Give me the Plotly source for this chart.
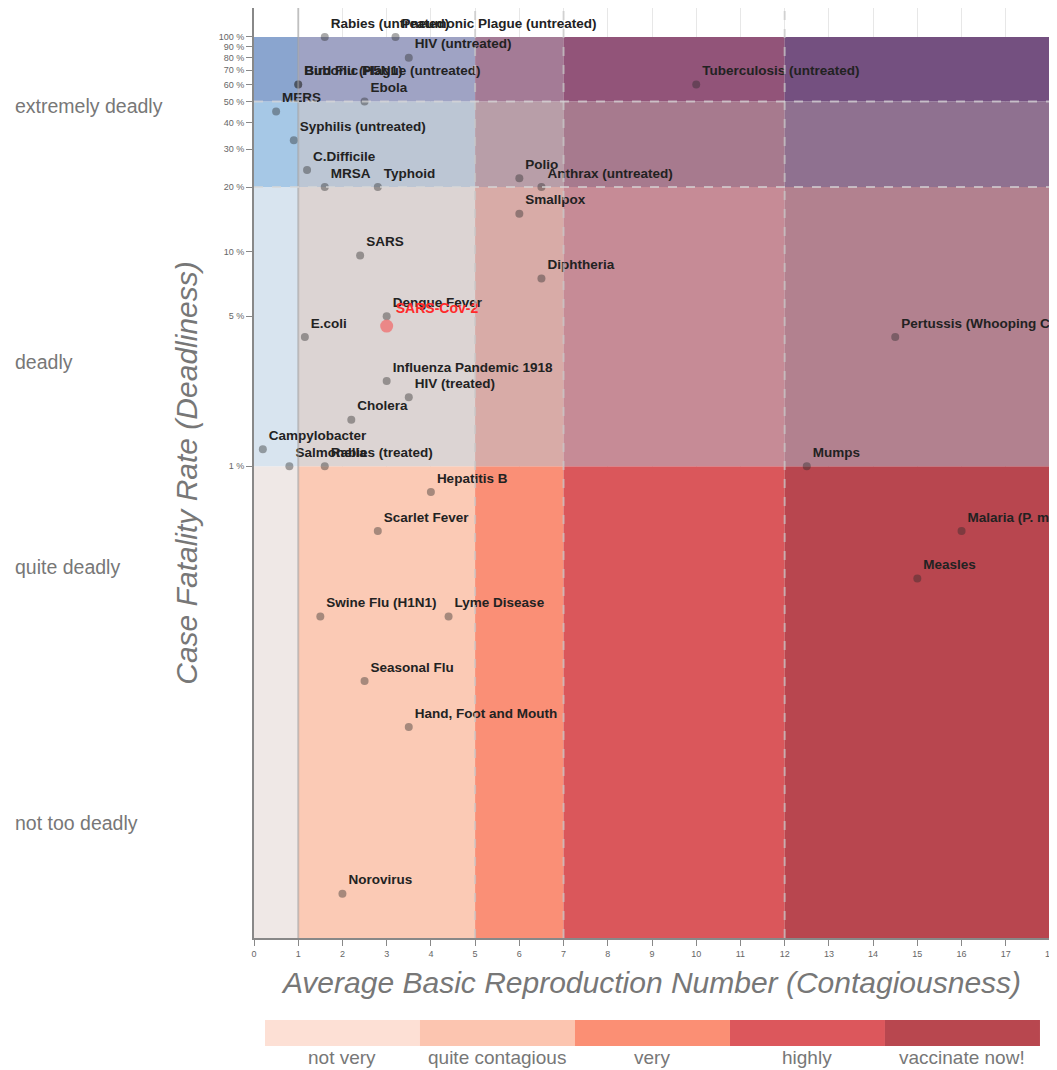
import plotly.graph_objects as go

# ---------------- data ----------------
diseases = [
    "Rabies (untreated)", "Pneumonic Plague (untreated)", "HIV (untreated)",
    "Bubonic Plague (untreated)", "Bird Flu (H5N1)", "Tuberculosis (untreated)",
    "Ebola", "MERS", "Syphilis (untreated)", "C.Difficile", "MRSA", "Typhoid",
    "Polio", "Anthrax (untreated)", "Smallpox", "SARS", "Diphtheria",
    "Dengue Fever", "E.coli", "Pertussis (Whooping Cough)",
    "Influenza Pandemic 1918", "HIV (treated)", "Cholera", "Campylobacter",
    "Salmonella", "Rabies (treated)", "Mumps", "Hepatitis B", "Scarlet Fever",
    "Malaria (P. malariae)", "Measles", "Swine Flu (H1N1)", "Lyme Disease",
    "Seasonal Flu", "Hand, Foot and Mouth", "Norovirus",
]
r0 = [
    1.6, 3.2, 3.5,
    1.0, 1.0, 10.0,
    2.5, 0.5, 0.9, 1.2, 1.6, 2.8,
    6.0, 6.5, 6.0, 2.4, 6.5,
    3.0, 1.15, 14.5,
    3.0, 3.5, 2.2, 0.2,
    0.8, 1.6, 12.5, 4.0, 2.8,
    16.0, 15.0, 1.5, 4.4,
    2.5, 3.5, 2.0,
]
cfr = [
    100, 100, 80,
    60, 60, 60,
    50, 45, 33, 24, 20, 20,
    22, 20, 15, 9.6, 7.5,
    5.0, 4.0, 4.0,
    2.5, 2.1, 1.65, 1.2,
    1.0, 1.0, 1.0, 0.76, 0.5,
    0.5, 0.3, 0.2, 0.2,
    0.1, 0.061, 0.0102,
]

covid_name = ["SARS-Cov-2"]
covid_r0 = [3.0]
covid_cfr = [4.5]

# band thresholds
r0_bands = [0, 1, 5, 7, 12, 18]
cfr_bands = [0.001, 1, 20, 50, 100]
deadly_labels = ["extremely deadly", "deadly", "quite deadly", "not too deadly"]
contagious_labels = ["not very", "quite contagious", "very", "highly", "vaccinate now!"]

y_ticks = [1, 5, 10, 20, 30, 40, 50, 60, 70, 80, 90, 100]
y_ticktext = [f"{v} %" for v in y_ticks]
x_ticks = list(range(0, 19))

# ---------------- styles ----------------
# rows: bottom -> top (cfr bands), cols: left -> right (r0 bands)
band_colors = [
    ["#efe8e6", "#fbcab5", "#fa8f76", "#da575b", "#b8464f"],
    ["#d8e4ef", "#dcd4d3", "#d8aba7", "#c68b96", "#b2818f"],
    ["#a6c8e6", "#bcc6d4", "#b89ea8", "#a77a8e", "#8f7190"],
    ["#8aa5cf", "#9fa3c4", "#a47b96", "#925479", "#745080"],
]
legend_colors = ["#fde0d5", "#fcc5b0", "#fb8f74", "#dc575c", "#b8474f"]

FONT = "Liberation Sans, Arial, sans-serif"

fig = go.Figure()

shapes = []
for i in range(len(cfr_bands) - 1):
    for j in range(len(r0_bands) - 1):
        shapes.append(dict(
            type="rect", xref="x", yref="y", layer="between",
            x0=r0_bands[j], x1=r0_bands[j + 1],
            y0=cfr_bands[i], y1=cfr_bands[i + 1],
            fillcolor=band_colors[i][j], line=dict(width=0),
        ))
# dashed vertical separators
for xv in r0_bands[2:-1]:
    shapes.append(dict(type="line", xref="x", yref="paper", x0=xv, x1=xv, y0=0, y1=1,
                       line=dict(color="rgba(200,200,200,0.7)", width=2, dash="dash"), layer="above"))
# solid line at R0 = 1
shapes.append(dict(type="line", xref="x", yref="paper", x0=r0_bands[1], x1=r0_bands[1], y0=0, y1=1,
                   line=dict(color="rgba(160,160,160,0.55)", width=2), layer="above"))
# dashed horizontal separators
for yv in cfr_bands[2:-1]:
    shapes.append(dict(type="line", xref="x", yref="y", x0=r0_bands[0], x1=r0_bands[-1], y0=yv, y1=yv,
                       line=dict(color="rgba(215,215,215,0.7)", width=2, dash="dash"), layer="above"))

# legend strip (paper coords)
lx0, lx1 = 0.0138, 0.9874
ly0, ly1 = -0.1161, -0.0882
seg = (lx1 - lx0) / len(contagious_labels)
annotations = []
for k, (lab, col) in enumerate(zip(contagious_labels, legend_colors)):
    shapes.append(dict(type="rect", xref="paper", yref="paper",
                       x0=lx0 + k * seg, x1=lx0 + (k + 1) * seg, y0=ly0, y1=ly1,
                       fillcolor=col, line=dict(width=0), layer="above"))
    annotations.append(dict(xref="paper", yref="paper", x=lx0 + (k + 0.5) * seg, y=-0.128,
                            text=lab, showarrow=False, xanchor="center", yanchor="middle",
                            font=dict(family=FONT, size=19, color="#777")))

deadly_y = [0.8946, 0.6194, 0.3989, 0.1237]
for lab, yy in zip(deadly_labels, deadly_y):
    annotations.append(dict(xref="paper", yref="paper", x=-0.3028, y=yy, text=lab,
                            showarrow=False, xanchor="left", yanchor="middle",
                            font=dict(family=FONT, size=19.5, color="#777")))

fig.add_trace(go.Scatter(
    x=r0, y=cfr, text=diseases, mode="markers+text", textposition="top right",
    marker=dict(size=8, color="rgba(40,40,40,0.4)", line=dict(width=0)),
    textfont=dict(family=FONT, size=13.5, color="#222", weight="bold"),
    cliponaxis=True, showlegend=False, hoverinfo="text",
))
fig.add_trace(go.Scatter(
    x=covid_r0, y=covid_cfr, text=covid_name, mode="markers+text", textposition="top right",
    marker=dict(size=13, color="rgba(240,110,110,0.75)", line=dict(width=0)),
    textfont=dict(family=FONT, size=14, color="#ff2a2a", weight="bold"),
    cliponaxis=True, showlegend=False, hoverinfo="text",
))

fig.update_layout(
    width=1049, height=1062,
    margin=dict(l=246, r=7, t=0, b=132),
    paper_bgcolor="white", plot_bgcolor="white",
    shapes=shapes, annotations=annotations,
    font=dict(family=FONT),
)
fig.update_xaxes(
    range=[0, 18], tickvals=x_ticks, ticks="outside", ticklen=6, tickcolor="#888",
    tickfont=dict(size=9, color="#666"), showline=True, linecolor="#888", linewidth=2,
    showgrid=True, gridcolor="rgba(215,215,215,0.6)", zeroline=False,
    title=dict(text="Average Basic Reproduction Number (Contagiousness)",
               font=dict(family=FONT, size=30, color="#777", style="italic"), standoff=14),
)
fig.update_yaxes(
    type="log", range=[-2.197, 2.135], tickvals=y_ticks, ticktext=y_ticktext,
    ticks="outside", ticklen=6, tickcolor="#888",
    tickfont=dict(size=9, color="#666"), showline=True, linecolor="#888", linewidth=2,
    showgrid=False, zeroline=False,
    title=dict(text="Case Fatality Rate (Deadliness)",
               font=dict(family=FONT, size=30, color="#777", style="italic"), standoff=12),
)

fig.write_html("out.html")
